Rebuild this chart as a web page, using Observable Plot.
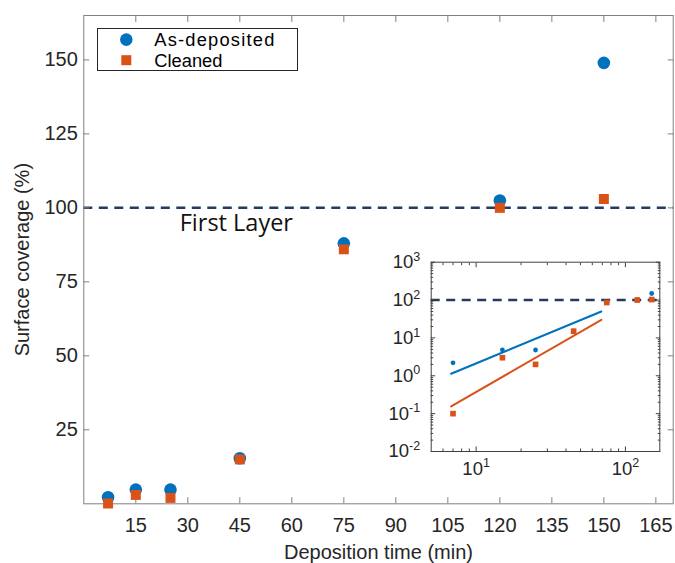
<!DOCTYPE html>
<html>
<head>
<meta charset="utf-8">
<script src="https://cdn.jsdelivr.net/npm/d3@7"></script>
<script src="https://cdn.jsdelivr.net/npm/@observablehq/plot@0.6"></script>
<style>
  body { margin: 0; background: #fff; }
  #wrap { position: relative; width: 675px; height: 563px; font-family: "Liberation Sans", Arial, sans-serif; }
  #main { position: absolute; left: 0; top: 0; }
  #inset { position: absolute; left: 380px; top: 250px; }
  #legend { position: absolute; left: 96.7px; top: 27.8px; width: 199.6px; height: 41.2px;
            border: 1px solid #262626; background: #fff; }
</style>
</head>
<body>
<div id="wrap">
  <div id="main"></div>
  <div id="inset"></div>
  <div id="legend"></div>
</div>
<script>
// ---- data ----
const depositionTime = [7, 15, 25, 45, 75, 120, 150];
const asDeposited    = [2.2, 4.8, 4.8, 15.4, 88, 102.5, 149];
const cleaned        = [0.1, 3, 2, 15, 86, 100, 103];

const seriesNames  = ["As-deposited", "Cleaned"];
const seriesColors = ["#0072BD", "#D95319"];

const xTicks = [15, 30, 45, 60, 75, 90, 105, 120, 135, 150, 165];
const yTicks = [25, 50, 75, 100, 125, 150];
const firstLayer = [100];
const annotationText = ["First Layer"];
const annotationX = [44];
const annotationY = [94.7];

// power-law fit lines shown in the inset (end points)
const fitTime         = [6.8, 69];
const fitAsDeposited  = [1.13, 50];
const fitCleaned      = [0.155, 30];

const insetXMajor = [10, 100];
const insetXLabels = ["1", "2"];
const insetXMinor = [6, 7, 8, 9, 20, 30, 40, 50, 60, 70, 80, 90];
const insetYMajor = [0.01, 0.1, 1, 10, 100, 1000];
const insetYLabels = ["-2", "-1", "0", "1", "2", "3"];
const insetYMinor = [0.02, 0.03, 0.04, 0.05, 0.06, 0.07, 0.08, 0.09,
                     0.2, 0.3, 0.4, 0.5, 0.6, 0.7, 0.8, 0.9,
                     2, 3, 4, 5, 6, 7, 8, 9,
                     20, 30, 40, 50, 60, 70, 80, 90,
                     200, 300, 400, 500, 600, 700, 800, 900];

// ---- tables ----
const pts = depositionTime.map((t, i) => ({t, a: asDeposited[i], c: cleaned[i]}));
const fitA = fitTime.map((t, i) => ({t, v: fitAsDeposited[i]}));
const fitC = fitTime.map((t, i) => ({t, v: fitCleaned[i]}));
const notes = annotationText.map((s, i) => ({s, x: annotationX[i], y: annotationY[i]}));

const axisColor = "#808080";
const textColor = "#262626";
const dashColor = "#253a5e";
const font = "Liberation Sans, Arial, sans-serif";

// ---- main chart ----
const main = Plot.plot({
  width: 675, height: 563,
  marginTop: 15, marginLeft: 83.3, marginRight: 2.3, marginBottom: 59.7,
  style: {fontFamily: font, fontSize: "20px", color: textColor, background: "transparent", overflow: "visible"},
  x: {domain: [0, 170]},
  y: {domain: [0, 165]},
  marks: [
    Plot.ruleY(firstLayer, {stroke: dashColor, strokeWidth: 2.5, strokeDasharray: "9,6.5"}),
    Plot.text(notes, {x: "x", y: "y", text: "s", fontFamily: "Open Sans, sans-serif", fontSize: 23.5, fill: "#111"}),
    Plot.axisX(xTicks, {anchor: "bottom", tickSize: 0, tickPadding: 14, fill: textColor,
      label: "Deposition time (min)", labelAnchor: "center", labelOffset: 55, labelArrow: "none"}),
    Plot.axisY(yTicks, {anchor: "left", tickSize: 0, tickPadding: 6, fill: textColor,
      label: "Surface coverage (%)", labelAnchor: "center", labelOffset: 69, labelArrow: "none"}),
    Plot.axisX(xTicks, {anchor: "bottom", tickSize: -6, fill: "none", label: null, stroke: axisColor}),
    Plot.axisX(xTicks, {anchor: "top", tickSize: -6, fill: "none", label: null, stroke: axisColor}),
    Plot.axisY(yTicks, {anchor: "left", tickSize: -6, fill: "none", label: null, stroke: axisColor}),
    Plot.axisY(yTicks, {anchor: "right", tickSize: -6, fill: "none", label: null, stroke: axisColor}),
    Plot.frame({stroke: axisColor}),
    Plot.dot(pts, {x: "t", y: "a", r: 6.3, fill: seriesColors[0]}),
    Plot.dot(pts, {x: "t", y: "c", r: 5.64, symbol: "square", fill: seriesColors[1]})
  ]
});
document.getElementById("main").appendChild(main);

// ---- inset (log-log) ----
const insetAxis = "#404040";
const inset = Plot.plot({
  width: 285, height: 240,
  marginLeft: 50.7, marginTop: 11.7, marginRight: 5.7, marginBottom: 39,
  style: {fontFamily: font, fontSize: "18.5px", color: textColor, background: "transparent", overflow: "visible"},
  x: {type: "log", domain: [5, 170]},
  y: {type: "log", domain: [0.01, 1000]},
  marks: [
    Plot.frame({fill: "#fff"}),
    Plot.ruleY(firstLayer, {stroke: dashColor, strokeWidth: 2.5, strokeDasharray: "9,6.5"}),
    Plot.line(fitA, {x: "t", y: "v", stroke: seriesColors[0], strokeWidth: 2}),
    Plot.line(fitC, {x: "t", y: "v", stroke: seriesColors[1], strokeWidth: 2}),
    Plot.axisX(insetXMajor, {anchor: "bottom", tickSize: 0, tickPadding: 10, fill: textColor, label: null,
      tickFormat: (d) => "10|" + insetXLabels[insetXMajor.indexOf(d)]}),
    Plot.axisY(insetYMajor, {anchor: "left", tickSize: 0, tickPadding: 11, fill: textColor, label: null,
      tickFormat: (d) => "10|" + insetYLabels[insetYMajor.indexOf(d)]}),
    ...["bottom", "top"].map(a => Plot.axisX(insetXMajor, {anchor: a, tickSize: -4.5, fill: "none", label: null, stroke: insetAxis})),
    ...["bottom", "top"].map(a => Plot.axisX(insetXMinor, {anchor: a, tickSize: -2.5, fill: "none", label: null, stroke: insetAxis})),
    ...["left", "right"].map(a => Plot.axisY(insetYMajor, {anchor: a, tickSize: -4.5, fill: "none", label: null, stroke: insetAxis})),
    ...["left", "right"].map(a => Plot.axisY(insetYMinor, {anchor: a, tickSize: -2.5, fill: "none", label: null, stroke: insetAxis})),
    Plot.frame({stroke: insetAxis}),
    Plot.dot(pts, {x: "t", y: "a", r: 2.4, fill: seriesColors[0]}),
    Plot.dot(pts, {x: "t", y: "c", r: 3.2, symbol: "square", fill: seriesColors[1]})
  ]
});
// turn "10|e" into 10 with a superscript exponent
inset.querySelectorAll("text").forEach(t => {
  const s = t.textContent;
  if (!s.includes("|")) return;
  const [base, exp] = s.split("|");
  while (t.firstChild) t.removeChild(t.firstChild);
  t.appendChild(document.createTextNode(base));
  const sup = document.createElementNS("http://www.w3.org/2000/svg", "tspan");
  sup.setAttribute("dy", "-7.3");
  sup.setAttribute("font-size", "12.5");
  sup.textContent = exp;
  t.appendChild(sup);
});
document.getElementById("inset").appendChild(inset);

// ---- legend ----
const NS = "http://www.w3.org/2000/svg";
const lg = document.createElementNS(NS, "svg");
lg.setAttribute("width", 199.6); lg.setAttribute("height", 41.2);
lg.style.display = "block";
const rowsY = [10.6, 31.2];
seriesNames.forEach((name, i) => {
  let sym;
  if (i === 0) {
    sym = document.createElementNS(NS, "circle");
    sym.setAttribute("cx", 28.3); sym.setAttribute("cy", rowsY[i]); sym.setAttribute("r", 6.3);
  } else {
    sym = document.createElementNS(NS, "rect");
    sym.setAttribute("x", 28.3 - 5); sym.setAttribute("y", rowsY[i] - 5);
    sym.setAttribute("width", 10); sym.setAttribute("height", 10);
  }
  sym.setAttribute("fill", seriesColors[i]);
  lg.appendChild(sym);
  const tx = document.createElementNS(NS, "text");
  tx.setAttribute("x", 56.3); tx.setAttribute("y", rowsY[i] + 6.8);
  tx.setAttribute("font-family", font); tx.setAttribute("font-size", "18.3");
  tx.setAttribute("textLength", i === 0 ? 120 : 0);
  if (i === 0) tx.setAttribute("lengthAdjust", "spacing"); else tx.removeAttribute("textLength");
  tx.setAttribute("fill", "#000");
  tx.textContent = name;
  lg.appendChild(tx);
});
document.getElementById("legend").appendChild(lg);
</script>
</body>
</html>
